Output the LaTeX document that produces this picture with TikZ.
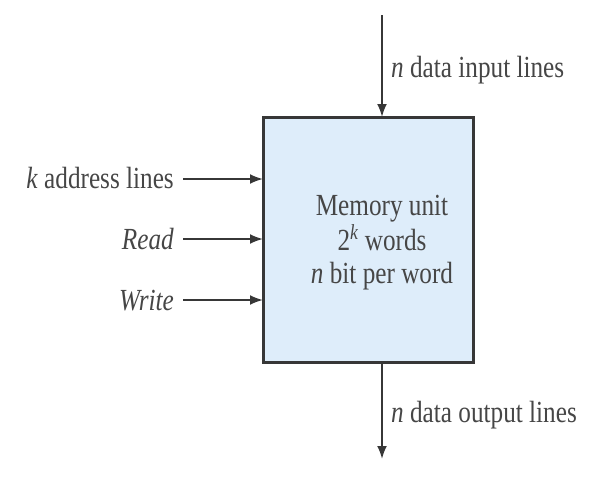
\documentclass[tikz,border=0pt]{standalone}
\usepackage{fontspec}
\usepackage{graphicx}
\setmainfont{Liberation Serif}
\usetikzlibrary{arrows.meta}
\definecolor{boxfill}{RGB}{222,237,250}
\definecolor{boxline}{RGB}{55,55,55}
\definecolor{txt}{RGB}{70,70,70}
\newcommand{\tall}[1]{\scalebox{0.97}[1.18]{#1}}
\begin{document}
\begin{tikzpicture}[x=1pt,y=-1pt,
  lbl/.style={font=\fontsize{26}{30}\selectfont, text=txt, inner sep=0pt},
  sig/.style={draw=boxline, line width=2pt, -{Latex[length=13pt,width=10pt]}},
  mem/.style={draw=boxline, line width=3pt, fill=boxfill}]
\useasboundingbox (0,0) rectangle (609,479);
\node[mem, minimum width=210pt, minimum height=245pt, inner sep=0pt] (m) at (368,239.5) {};
\node[lbl, anchor=base] (mt1) at (382,215) {\tall{Memory unit}};
\node[lbl, anchor=base] (mt2) at (382,250) {\tall{2\textsuperscript{\itshape k} words}};
\node[lbl, anchor=base] (mt3) at (382,283) {\tall{\textit{n} bit per word}};
\coordinate (tin) at (382,15);
\coordinate (bin) at (382,117);
\coordinate (tout) at (382,362);
\coordinate (bout) at (382,459);
\draw[sig] (tin) -- (bin);
\draw[sig] (tout) -- (bout);
\node[lbl, anchor=base west] (lin) at (391,77) {\tall{\textit{n} data input lines}};
\node[lbl, anchor=base west] (lout) at (391,422) {\tall{\textit{n} data output lines}};
\node[lbl, anchor=base east] (la) at (174,188) {\tall{\textit{k} address lines}};
\node[lbl, anchor=base east] (lr) at (174,249) {\tall{\textit{Read}}};
\node[lbl, anchor=base east] (lw) at (174,310) {\tall{\textit{Write}}};
\coordinate (sa) at (183,179);
\coordinate (sr) at (183,239);
\coordinate (sw) at (183,300);
\coordinate (ea) at (263,179);
\coordinate (er) at (263,239);
\coordinate (ew) at (263,300);
\draw[sig] (sa) -- (ea);
\draw[sig] (sr) -- (er);
\draw[sig] (sw) -- (ew);
\end{tikzpicture}
\end{document}
